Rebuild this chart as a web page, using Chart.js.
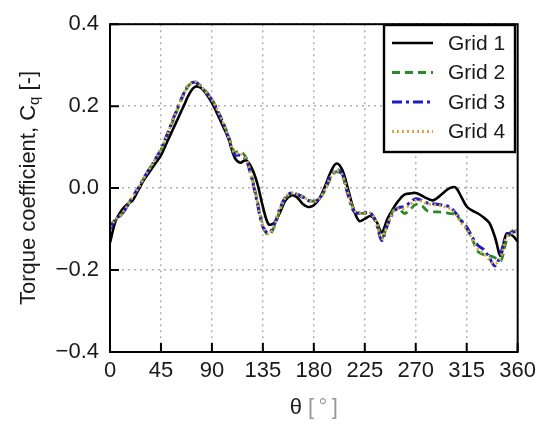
<!DOCTYPE html>
<html>
<head>
<meta charset="utf-8">
<script src="https://cdn.jsdelivr.net/npm/chart.js@4.4.1/dist/chart.umd.min.js"></script>
<style>
  html, body { margin: 0; padding: 0; background: #fff; }
  #wrap { width: 542px; height: 425px; }
</style>
</head>
<body>
<div id="wrap"><canvas id="cqChart" width="542" height="425"></canvas></div>
<script>
// azimuth angle, deg
const angles = [0, 5, 10, 15, 20, 25, 30, 35, 40, 45, 50, 55, 60, 65, 70, 75, 80, 85, 90,
  95, 100, 105, 110, 115, 120, 125, 130, 135, 140, 145, 150, 155, 160, 165, 170, 175, 180,
  185, 190, 195, 200, 205, 210, 215, 220, 225, 230, 235, 240, 245, 250, 255, 260, 265, 270,
  275, 280, 285, 290, 295, 300, 305, 310, 315, 320, 325, 330, 335, 340, 345, 350, 355, 360];

const grid1 = [-0.133, -0.08, -0.055, -0.04, -0.03, -0.005, 0.02, 0.04, 0.06, 0.08, 0.11, 0.14, 0.17, 0.2, 0.23, 0.247, 0.245, 0.23, 0.208,
  0.18, 0.15, 0.118, 0.075, 0.062, 0.068, 0.05, 0.012, -0.045, -0.088, -0.085, -0.06, -0.03, -0.018, -0.022, -0.038, -0.046, -0.042,
  -0.025, 0.005, 0.04, 0.06, 0.045, 0.0, -0.05, -0.08, -0.075, -0.068, -0.08, -0.108, -0.075, -0.05, -0.03, -0.016, -0.013, -0.012,
  -0.018, -0.025, -0.03, -0.022, -0.01, 0.0, 0.002, -0.02, -0.045, -0.055, -0.062, -0.072, -0.085, -0.12, -0.165, -0.112, -0.115, -0.13];

const grid2 = [-0.09, -0.078, -0.065, -0.045, -0.02, 0.0, 0.025, 0.048, 0.07, 0.093, 0.125, 0.16, 0.195, 0.228, 0.252, 0.26, 0.25, 0.235, 0.217,
  0.19, 0.16, 0.125, 0.088, 0.09, 0.075, 0.03, -0.03, -0.09, -0.115, -0.095, -0.055, -0.025, -0.013, -0.015, -0.02, -0.028, -0.032,
  -0.025, -0.005, 0.025, 0.04, 0.03, -0.01, -0.05, -0.06, -0.062, -0.062, -0.08, -0.12, -0.09, -0.055, -0.05, -0.062, -0.052, -0.04,
  -0.042, -0.055, -0.058, -0.058, -0.06, -0.062, -0.065, -0.08, -0.1, -0.125, -0.155, -0.162, -0.165, -0.17, -0.178, -0.13, -0.105, -0.1];

const grid3 = [-0.1, -0.075, -0.065, -0.045, -0.022, 0.0, 0.025, 0.048, 0.07, 0.095, 0.128, 0.163, 0.198, 0.23, 0.253, 0.258, 0.248, 0.232, 0.215,
  0.188, 0.158, 0.12, 0.082, 0.08, 0.07, 0.025, -0.035, -0.095, -0.11, -0.09, -0.05, -0.022, -0.012, -0.015, -0.022, -0.03, -0.035,
  -0.025, 0.0, 0.03, 0.045, 0.035, -0.015, -0.055, -0.062, -0.06, -0.06, -0.085, -0.128, -0.09, -0.06, -0.048, -0.045, -0.035, -0.026,
  -0.03, -0.036, -0.038, -0.04, -0.042, -0.046, -0.06, -0.078, -0.095, -0.12, -0.14, -0.15, -0.17, -0.19, -0.16, -0.115, -0.108, -0.105];

const grid4 = [-0.095, -0.076, -0.064, -0.044, -0.021, 0.0, 0.025, 0.048, 0.07, 0.094, 0.127, 0.162, 0.197, 0.229, 0.252, 0.259, 0.249, 0.233, 0.216,
  0.189, 0.159, 0.122, 0.085, 0.085, 0.072, 0.027, -0.032, -0.092, -0.112, -0.092, -0.052, -0.023, -0.012, -0.015, -0.021, -0.029, -0.034,
  -0.025, -0.002, 0.028, 0.043, 0.033, -0.012, -0.052, -0.061, -0.061, -0.061, -0.082, -0.124, -0.09, -0.058, -0.05, -0.05, -0.04, -0.03,
  -0.032, -0.038, -0.04, -0.042, -0.045, -0.05, -0.062, -0.085, -0.1, -0.125, -0.15, -0.16, -0.175, -0.185, -0.17, -0.12, -0.11, -0.1];

const seriesNames = ['Grid 1', 'Grid 2', 'Grid 3', 'Grid 4'];
const seriesValues = [grid1, grid2, grid3, grid4];
const xTicks = [0, 45, 90, 135, 180, 225, 270, 315, 360];
const yTicks = [-0.4, -0.2, 0.0, 0.2, 0.4];

const styles = [
  { color: '#000000', dash: [], width: 2.6 },
  { color: '#2a8a2a', dash: [8, 5], width: 2.8 },
  { color: '#1c1cc4', dash: [10, 4, 3, 4], width: 3 },
  { color: '#e0a83a', dash: [2, 3], width: 2.8 }
];

const FONT = "'Liberation Sans', Arial, Helvetica, sans-serif";
Chart.defaults.font.family = FONT;
Chart.defaults.font.size = 22;
Chart.defaults.color = '#1a1a1a';

// frame, inward ticks, titles and legend box
const decorations = {
  id: 'decorations',
  afterDatasetsDraw(chart) {
    const ctx = chart.ctx;
    const a = chart.chartArea;
    const xs = chart.scales.x, ys = chart.scales.y;
    ctx.save();
    ctx.strokeStyle = '#000';
    ctx.lineWidth = 2;
    ctx.setLineDash([]);
    ctx.beginPath();
    xTicks.forEach(v => {
      const px = xs.getPixelForValue(v);
      ctx.moveTo(px, a.bottom); ctx.lineTo(px, a.bottom - 9);
    });
    yTicks.forEach(v => {
      const py = ys.getPixelForValue(v);
      ctx.moveTo(a.left, py); ctx.lineTo(a.left + 9, py);
    });
    ctx.stroke();
    ctx.strokeRect(a.left, a.top, a.right - a.left, a.bottom - a.top);

    // legend
    const lx = 384, ly = 25, lw = 131, lh = 127;
    ctx.fillStyle = '#fff';
    ctx.fillRect(lx, ly, lw, lh);
    ctx.lineWidth = 2.4;
    ctx.strokeRect(lx, ly, lw, lh);
    ctx.font = '21px ' + FONT;
    ctx.textBaseline = 'middle';
    ctx.textAlign = 'left';
    chart.data.datasets.forEach((ds, i) => {
      const y = ly + 18 + i * 29.5;
      ctx.beginPath();
      ctx.strokeStyle = ds.borderColor;
      ctx.lineWidth = ds.borderWidth;
      ctx.setLineDash(ds.borderDash);
      ctx.moveTo(lx + 8, y); ctx.lineTo(lx + 49, y);
      ctx.stroke();
      ctx.setLineDash([]);
      ctx.fillStyle = '#1a1a1a';
      ctx.fillText(ds.label, lx + 64, y + 1);
    });

    // y title with subscript
    const t1 = 'Torque coefficient, C', t2 = 'q', t3 = ' [-]';
    ctx.font = '22px ' + FONT;
    const w1 = ctx.measureText(t1).width, w3 = ctx.measureText(t3).width;
    ctx.font = '15px ' + FONT;
    const w2 = ctx.measureText(t2).width;
    const tot = w1 + w2 + w3;
    ctx.translate(27, 188);
    ctx.rotate(-Math.PI / 2);
    ctx.fillStyle = '#1a1a1a';
    ctx.textBaseline = 'alphabetic';
    ctx.font = '22px ' + FONT;
    ctx.fillText(t1, -tot / 2, 8);
    ctx.font = '15px ' + FONT;
    ctx.fillText(t2, -tot / 2 + w1, 12);
    ctx.font = '22px ' + FONT;
    ctx.fillText(t3, -tot / 2 + w1 + w2, 8);
    ctx.restore();

    // x title
    ctx.save();
    ctx.font = '22px ' + FONT;
    ctx.textBaseline = 'middle';
    const sA = '\u03b8 ', sB = '[\u2009\u00b0\u2009]';
    const wA = ctx.measureText(sA).width, wB = ctx.measureText(sB).width;
    const cx = (a.left + a.right) / 2 - (wA + wB) / 2;
    ctx.fillStyle = '#1a1a1a';
    ctx.fillText(sA, cx, 408);
    ctx.fillStyle = '#999';
    ctx.fillText(sB, cx + wA, 408);
    ctx.restore();
  }
};

const datasets = seriesNames.map((name, i) => ({
  label: name,
  data: angles.map((a, j) => ({ x: a, y: seriesValues[i][j] })),
  borderColor: styles[i].color,
  borderDash: styles[i].dash,
  borderWidth: styles[i].width,
  pointRadius: 0,
  tension: 0.35,
  fill: false,
  order: seriesNames.length - i
}));

const chart = new Chart(document.getElementById('cqChart').getContext('2d'), {
  type: 'line',
  data: { datasets: datasets },
  options: {
    responsive: false,
    animation: false,
    layout: { padding: { top: 16, right: 20, left: 0, bottom: 0 } },
    plugins: {
      legend: { display: false },
      tooltip: { enabled: false }
    },
    scales: {
      x: {
        type: 'linear',
        min: 0,
        max: 360,
        afterFit: s => { s.height = 73; },
        afterBuildTicks: s => { s.ticks = xTicks.map(v => ({ value: v })); },
        ticks: { padding: 6, color: '#1a1a1a', font: { size: 22 } },
        grid: { color: '#b0b0b0', lineWidth: 1.5, drawTicks: false },
        border: { display: false, dash: [2, 4] }
      },
      y: {
        min: -0.4,
        max: 0.4,
        afterFit: s => { s.width = 110; },
        afterBuildTicks: s => { s.ticks = yTicks.map(v => ({ value: v })); },
        ticks: {
          padding: 11,
          color: '#1a1a1a',
          font: { size: 22 },
          callback: v => (v < 0 ? '\u2212' : '') + Math.abs(v).toFixed(1)
        },
        grid: { color: '#b0b0b0', lineWidth: 1.5, drawTicks: false },
        border: { display: false, dash: [2, 4] }
      }
    }
  },
  plugins: [decorations]
});
</script>
</body>
</html>
